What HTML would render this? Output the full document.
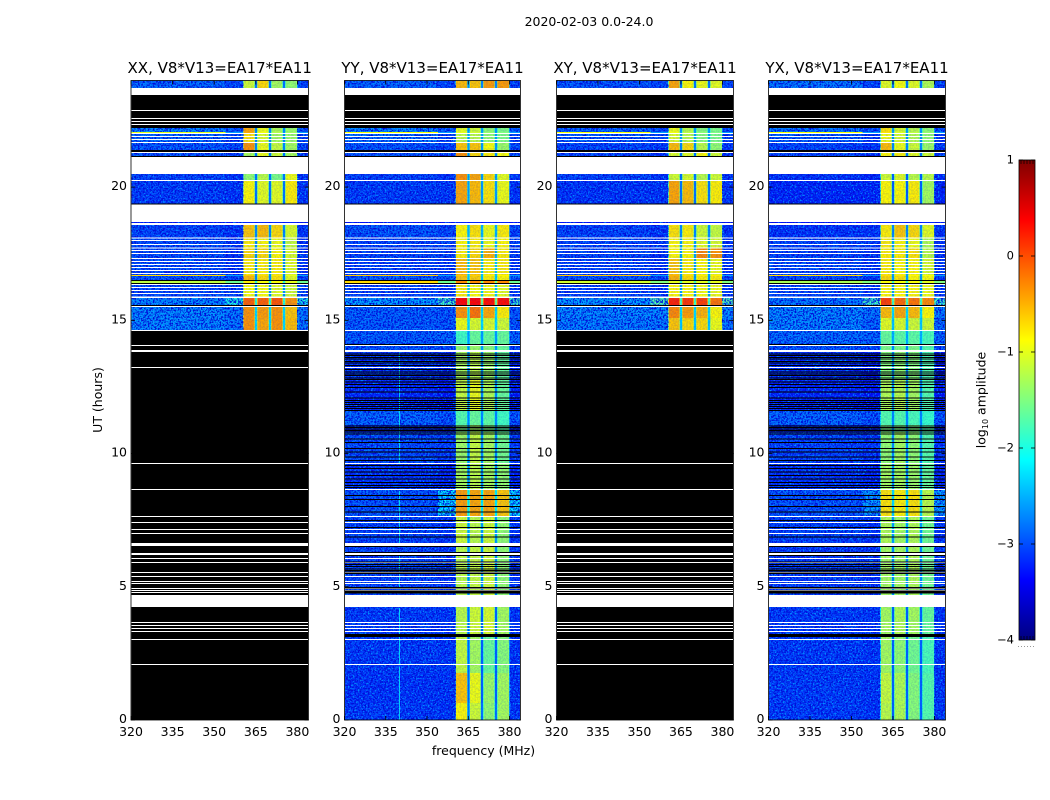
<!DOCTYPE html>
<html lang="en">
<head>
<meta charset="utf-8">
<title>2020-02-03 0.0-24.0</title>
<style>
html,body{margin:0;padding:0;background:#fff;}
svg{display:block;font-family:"DejaVu Sans","Liberation Sans",sans-serif;fill:#000;}
</style>
</head>
<body>
<svg id="chart" width="1050" height="800" viewBox="0 0 1050 800" xmlns="http://www.w3.org/2000/svg">
  <defs>
    <filter id="speckle" x="0" y="0" width="100%" height="100%" color-interpolation-filters="sRGB">
      <feTurbulence type="fractalNoise" baseFrequency="0.6" numOctaves="2" seed="7" result="n"/>
      <feColorMatrix in="n" type="matrix" values="0 0 0 0 0  0 0 0 0 0.55  0 0 0 0 1  6 0 0 0 -3.3" result="light"/>
      <feColorMatrix in="n" type="matrix" values="0 0 0 0 0  0 0 0 0 0.05  0 0 0 0 0.85  0 5 0 0 -2.1" result="dark"/>
      <feMerge><feMergeNode in="dark"/><feMergeNode in="light"/></feMerge>
    </filter>
  </defs>
  <rect width="1050" height="800" fill="#fff"/>
  <text x="589" y="26" font-size="12.5" text-anchor="middle">2020-02-03 0.0-24.0</text>
  <g id="panels"></g>
  <text x="0" y="0" font-size="12.5" text-anchor="middle" transform="translate(102 400) rotate(-90)">UT (hours)</text>
  <text x="483.5" y="755" font-size="12.5" text-anchor="middle">frequency (MHz)</text>
  <g id="colorbar"></g>
  <text x="0" y="0" font-size="12.5" text-anchor="middle" transform="translate(985.5 400) rotate(-90)">log<tspan font-size="8" dy="2.5">10</tspan><tspan dy="-2.5"> amplitude</tspan></text>
</svg>
<script>
// ---- categories and tick labels ----
const polarizations = ['XX', 'YY', 'XY', 'YX'];
const baselineName = 'V8*V13=EA17*EA11';
const freqTicks = [320, 335, 350, 365, 380];
const timeTicks = [0, 5, 10, 15, 20];
const amplitudeTicks = [1, 0, -1, -2, -3, -4];

// ---- frequency structure (MHz): start/end of the four sub-bands ----
const subBands = [[360.4, 364.7], [365.4, 369.7], [370.4, 374.8], [375.5, 380]];
const shoulderStart = 354;

// ---- time blocks (UT hours, start and end) shared by all panels ----
const timeSpans = [
  [24,23.72],[23.46,22.22],[22.22,22.07],[22.07,22.03],[22.03,21.65],[21.65,21.39],[21.39,21.28],
  [21.28,21.17],[21.17,21.13],[20.49,20.23],[20.23,19.39],[19.39,19.34],[18.69,18.58],[18.58,18.11],
  [18.11,17.73],[17.73,17.34],[17.34,16.70],[16.70,16.66],[16.66,16.51],[16.51,16.47],[16.47,16.40],
  [16.40,16.36],[16.36,15.84],[15.84,15.58],[15.58,15.50],[15.50,15.09],[15.09,14.64],[14.64,14.11],
  [14.11,14.04],[14.04,13.81],[13.81,12.76],[12.76,11.63],[11.63,11.07],[11.07,10.81],[10.81,9.63],
  [9.63,8.65],[8.65,7.64],[7.64,6.6],[6.6,4.69],[4.69,3.23],[3.23,3.11],[3.11,1.76],[1.76,0.64],[0.64,0]
];

// ---- log10 amplitude per block: background, shoulder, gap, band1..band4; null = below scale (black) ----
const xxValues = [
  [-2.8,-3,-2.8,-1.1,-.7,-1.3,-1.4],null,[-2.6,-2.9,-2.7,-.45,-.95,-1.25,-1.35],[-1,-2.6,-2.7,-.45,-.95,-1.25,-1.35],
  [-2.8,-3,-2.7,-.75,-1.05,-1.3,-1.35],[-2.9,-3,-2.7,-.35,-.95,-1.15,-1.3],null,[-2.9,-3,-2.8,-1.3,-.95,-1.1,-1.3],null,
  [-3,-3.1,-2.8,-1.4,-1.2,-1.5,-.95],[-3.05,-3.1,-2.8,-.85,-1,-1,-.8],null,[-3.3,-3.3,-3.3,-3.2,-3.2,-3.2,-3.2],
  [-3,-3.1,-2.7,-.6,-.55,-.7,-1.05],[-2.95,-3.1,-2.7,-.8,-.85,-.95,-1.15],[-2.95,-3.1,-2.7,-.7,-.7,-.85,-1.05],
  [-2.95,-3.1,-2.7,-.8,-.8,-.8,-1],[-.7,-2.6,-2.7,-.6,-.7,-.75,-1],[-2.9,-3,-2.7,-.55,-.7,-.75,-1],null,
  [-1.2,-1.6,-1.9,-.8,-.9,-.9,-1],null,[-2.95,-3,-2.7,-.9,-.9,-1,-1.1],[-2.6,-2,-1.9,-.1,-.1,-.05,-.35],null,
  [-2.6,-2.7,-2.3,-.35,-.4,-.35,-.6],[-2.6,-2.7,-2.3,-.35,-.45,-.35,-.55]
];
const yyValues = [
  [-2.8,-3,-2.7,-.55,-.6,-.4,-.4],null,[-2.6,-2.9,-2.6,-1,-1.1,-1.4,-1.5],[-.9,-2.6,-2.6,-1,-1.1,-1.4,-1.5],
  [-2.75,-3,-2.6,-1.2,-1.2,-1.4,-1.5],[-2.9,-3,-2.6,-.6,-.6,-.9,-1.35],null,[-2.9,-3,-2.7,-.35,-.7,-.8,-.9],null,
  [-3,-3.1,-2.6,-.35,-.45,-.7,-1],[-3.05,-3.1,-2.6,-.45,-.55,-.75,-.95],null,[-3.3,-3.3,-3.3,-3.2,-3.2,-3.2,-3.2],
  [-2.9,-3,-2.5,-.85,-.75,-.95,-.8],[-3,-3,-2.5,-.85,-.8,-.95,-.85],[-3,-3,-2.5,-.8,-.7,-.5,-.8],
  [-3,-3.1,-2.4,-.55,-.6,-.8,-.8],[-.6,-2.6,-2.4,-.6,-.65,-.8,-.85],[-2.85,-2.9,-2.4,-.6,-.65,-.8,-.85],null,
  [-.7,-1.6,-1.6,-.3,-.3,-.3,-.3],null,[-3,-3.1,-2.4,-.8,-.9,-.9,-1],[-2.5,-1.8,-1.6,.35,.35,.3,.3],null,
  [-2.85,-2.9,-2.3,-.35,-.2,-.45,-.8],[-2.85,-2.9,-2.3,-.95,-1.05,-1.05,-1.1],[-2.85,-2.8,-2.6,-1.8,-1.6,-1.6,-1.6],null,
  [-2.9,-3,-2.6,-1.4,-1.35,-1.45,-1.6],[-3.1,-3.2,-2.7,-1.3,-1.2,-1.35,-1.6],[-3.2,-3.3,-2.7,-1.15,-.95,-1.25,-1.6],
  [-2.8,-2.9,-2.7,-1.7,-1.6,-1.65,-1.8],[-3.2,-3.3,-2.7,-1.5,-1.3,-1.5,-1.7],[-2.95,-3.05,-2.7,-1.35,-1.15,-1.3,-1.55],
  [-3.1,-3.2,-2.7,-1.3,-1.2,-1.3,-1.4],[-2.9,-2.2,-2.2,-.4,-.45,-.45,-.6],[-3,-3.1,-2.6,-1.1,-1.2,-1.1,-1.4],
  [-3,-3.1,-2.7,-1.2,-1.15,-1.1,-1.4],[-3.05,-3.1,-2.9,-1.2,-1.1,-1.05,-1.3],null,[-3.05,-3.1,-2.9,-1.15,-1.3,-1.6,-1.45],
  [-3.1,-3.1,-2.9,-.6,-.95,-1.35,-1.3],[-3.05,-3.1,-2.8,-.85,-1.1,-1.4,-1.3]
];
const xyValues = [
  [-2.9,-3,-2.8,-.45,-.85,-.95,-1],null,[-2.8,-3,-2.6,-.95,-1.2,-1.45,-1.5],[-.9,-2.6,-2.6,-.95,-1.2,-1.45,-1.5],
  [-2.9,-3,-2.6,-1.05,-1.2,-1.45,-1.5],[-3,-3.1,-2.7,-.55,-.7,-1.2,-1.4],null,[-3,-3.1,-2.8,-1.05,-1,-.85,-1.1],null,
  [-3,-3.1,-2.8,-1.1,-1.05,-1.2,-1.1],[-3.1,-3.1,-2.8,-.45,-.55,-.75,-.8],null,[-3.3,-3.3,-3.3,-3.2,-3.2,-3.2,-3.2],
  [-3,-3.1,-2.7,-.75,-.8,-1.1,-1.15],[-3,-3.1,-2.6,-.85,-.85,-1,-1.05],[-3,-3.1,-2.6,-.85,-.85,-.3,-.35],
  [-3,-3.1,-2.6,-.6,-.8,-.85,-.95],[-.6,-2.6,-2.6,-.5,-.7,-.8,-.8],[-2.9,-3,-2.6,-.5,-.7,-.8,-.8],null,
  [-1.1,-1.5,-1.8,-1,-1,-1,-1],null,[-3,-3.1,-2.6,-.85,-.85,-.9,-.95],[-2.5,-1.7,-1.8,.2,.1,.05,-.2],null,
  [-2.6,-2.6,-2.3,-.3,-.4,-.5,-.85],[-2.65,-2.7,-2.4,-.6,-.7,-.7,-.95]
];
const yxValues = [
  [-2.7,-3,-2.8,-1,-.9,-1,-1.25],null,[-2.7,-3,-2.6,-.75,-1.05,-1.2,-1.4],[-.9,-2.6,-2.6,-.75,-1.05,-1.2,-1.4],
  [-2.85,-3.1,-2.7,-.95,-1.05,-1.25,-1.4],[-3,-3.1,-2.7,-.55,-.95,-1.1,-1.35],null,[-3,-3.1,-2.8,-.85,-.8,-1,-1.1],null,
  [-3.1,-3.2,-2.9,-1.1,-1,-1.2,-1.2],[-3.2,-3.2,-2.9,-.85,-.85,-.8,-1.3],null,[-3.3,-3.3,-3.3,-3.2,-3.2,-3.2,-3.2],
  [-3.1,-3.1,-2.7,-.8,-.6,-.7,-1],[-3,-3.1,-2.6,-.8,-.85,-.95,-1.25],[-3,-3.1,-2.6,-.8,-.8,-.75,-1.2],
  [-2.95,-3.1,-2.6,-.8,-.85,-.85,-1.05],[-.7,-2.6,-2.6,-.7,-.75,-.85,-.9],[-2.95,-3.1,-2.6,-.7,-.75,-.85,-.9],null,
  [-1.3,-1.5,-1.8,-.9,-.9,-.9,-1],null,[-2.95,-3.1,-2.6,-.85,-.85,-.85,-.95],[-2.7,-1.8,-1.8,.05,-.15,-.2,-.3],null,
  [-2.6,-2.7,-2.3,-.55,-.45,-.55,-.85],[-2.6,-2.8,-2.4,-1,-1.05,-1.1,-1.1],[-2.75,-2.8,-2.5,-1.6,-1.65,-1.65,-1.75],null,
  [-2.9,-3,-2.7,-1.5,-1.5,-1.5,-1.7],[-3.15,-3.3,-2.7,-1.45,-1.4,-1.45,-1.7],[-3.2,-3.3,-2.7,-1.25,-1.2,-1.3,-1.7],
  [-2.8,-2.9,-2.7,-1.7,-1.7,-1.75,-1.85],[-3.2,-3.3,-2.7,-1.5,-1.5,-1.5,-1.7],[-3,-3.1,-2.7,-1.4,-1.3,-1.4,-1.7],
  [-3.1,-3.2,-2.7,-1.3,-1.3,-1.35,-1.6],[-2.9,-2.5,-2.3,-.75,-.8,-.75,-1.2],[-3,-3.1,-2.6,-1.25,-1.3,-1.25,-1.55],
  [-3.05,-3.1,-2.7,-1.3,-1.3,-1.25,-1.55],[-3.05,-3.1,-2.9,-1.3,-1.25,-1.3,-1.6],null,[-3.05,-3.1,-2.9,-1.3,-1.4,-1.55,-1.75],
  [-3.05,-3.1,-2.9,-1.15,-1.25,-1.45,-1.7],[-3.05,-3.1,-2.9,-1.2,-1.25,-1.45,-1.7]
];
const panelValues = [xxValues, yyValues, xyValues, yxValues];

// ---- flagged (blank) time intervals common to all panels, UT hours ----
const flaggedSpans = [
  [23.72,23.46],[22.89,22.86],[22.59,22.56],[22.48,22.44],[22.37,22.33],[22.03,21.99],[21.92,21.88],[21.80,21.77],
  [21.69,21.65],[21.32,21.28],[21.13,20.49],[20.27,20.23],[19.34,18.69],[18.65,18.58],[18.11,18.07],[18.01,17.98],
  [17.86,17.83],[17.73,17.70],[17.64,17.60],[17.53,17.49],[17.34,17.30],[17.23,17.19],[17.11,17.08],[17.00,16.96],
  [16.89,16.85],[16.78,16.74],[16.36,16.33],[16.25,16.21],[16.14,16.10],[16.03,15.99],[15.89,15.84],[15.54,15.50],
  [14.64,14.60],[14.07,14.04],[13.89,13.81],[13.25,13.21],[9.65,9.61],[8.67,8.63],[7.66,7.62],[7.43,7.39],[7.17,7.13],
  [7.02,6.98],[6.64,6.53],[6.27,6.19],[6.08,6.04],[5.93,5.89],[5.55,5.52],[5.40,5.37],[5.22,5.18],[5.14,5.10],
  [4.95,4.92],[4.88,4.84],[4.80,4.77],[4.69,4.24],[3.68,3.64],[3.57,3.53],[3.45,3.42],[3.34,3.30],[3.04,3.00],[2.10,2.06]
];

// ---- dropped integrations in the YY / YX panels (UT hours) ----
const droppedTimes = [
  13.76,13.70,13.63,13.57,13.48,13.41,13.33,13.18,13.07,13.01,12.95,12.86,12.79,12.70,12.61,12.49,12.32,12.11,12.01,
  11.93,11.86,11.78,11.71,11.63,11.05,11.00,10.94,10.88,10.83,10.76,10.57,10.44,10.20,10.07,9.88,9.76,9.57,9.45,9.32,
  9.19,9.07,8.94,8.82,8.74,8.44,8.29,8.03,7.82,7.51,7.25,6.88,6.53,6.31,6.19,5.94,5.85,5.78,5.69,5.63,5.57,5.51,
  5.00,4.97,4.86,4.82,4.78
];
const droppedPanels = ['YY', 'YX'];

// ---- narrow interference line: frequency (MHz), time spans (UT hours), log amplitude ----
const rfiFrequency = 339.8;
const rfiSpans = [[13.8,9.6],[8.6,6.6],[6.2,5.0],[4.2,2.1],[2.0,0]];
const rfiLevel = -2.1;

// ---- layout and scales ----
const NS = 'http://www.w3.org/2000/svg';
const panelFrames = [[131, 308.5], [344.5, 520.5], [556.5, 733.5], [768.5, 945.5]];
const plotTop = 80.5, plotBottom = 720;
const freqMin = 320, freqMax = 384, timeMax = 24;
const barLeft = 1019, barRight = 1035, barTop = 160, barBottom = 640, ampMin = -4, ampMax = 1;
const fringeWidth = 0.2, hotLineLevel = -2;

function xScale(p, f) { const fr = panelFrames[p]; return fr[0] + (f - freqMin) / (freqMax - freqMin) * (fr[1] - fr[0]); }
function yScale(t) { return plotBottom - t / timeMax * (plotBottom - plotTop); }
function ampScale(v) { return barBottom - (v - ampMin) / (ampMax - ampMin) * (barBottom - barTop); }
function clamp01(v) { return Math.max(0, Math.min(1, v)); }
function jet(v) {
  const x = clamp01((v - ampMin) / (ampMax - ampMin));
  const r = clamp01(1.5 - Math.abs(4 * x - 3));
  const g = clamp01(1.5 - Math.abs(4 * x - 2));
  const b = clamp01(1.5 - Math.abs(4 * x - 1));
  return 'rgb(' + Math.round(r * 255) + ',' + Math.round(g * 255) + ',' + Math.round(b * 255) + ')';
}
function svgEl(tag, parent) { const el = document.createElementNS(NS, tag); parent.appendChild(el); return el; }
function box(parent, x0, x1, y0, y1, fill) {
  const r = svgEl('rect', parent);
  r.setAttribute('x', x0); r.setAttribute('y', y0);
  r.setAttribute('width', x1 - x0); r.setAttribute('height', y1 - y0);
  r.setAttribute('fill', fill);
  r.setAttribute('shape-rendering', 'crispEdges');
  return r;
}
function stroke(parent, x1, y1, x2, y2, w, col) {
  const l = svgEl('line', parent);
  l.setAttribute('x1', x1); l.setAttribute('y1', y1); l.setAttribute('x2', x2); l.setAttribute('y2', y2);
  l.setAttribute('stroke', col || '#000'); l.setAttribute('stroke-width', w);
  return l;
}
function label(parent, x, y, str, size, anchor) {
  const t = svgEl('text', parent);
  t.setAttribute('x', x); t.setAttribute('y', y);
  t.setAttribute('font-size', size); t.setAttribute('text-anchor', anchor);
  t.textContent = str;
  return t;
}

const panelsRoot = document.getElementById('panels');
polarizations.forEach(function (pol, p) {
  const g = svgEl('g', panelsRoot);
  
  
  const values = panelValues[p];
  const left = xScale(p, freqMin) + 0.5, right = xScale(p, freqMax) - 0.5;
  const baseLayer = svgEl('g', g);
  const noiseLayer = svgEl('g', g);
  const hotLayer = svgEl('g', g);

  // data cells
  timeSpans.forEach(function (span, i) {
    const row = values[i];
    if (!row) return;
    const y0 = yScale(span[0]), y1 = yScale(span[1]);
    const bg = row[0], sh = row[1], gap = row[2];
    const target = bg > hotLineLevel ? hotLayer : baseLayer;
    const cols = [[freqMin, shoulderStart, bg], [shoulderStart, subBands[0][0], sh], [subBands[3][1], freqMax, sh]];
    subBands.forEach(function (band, b) {
      const v = row[3 + b];
      const edgeValue = (v + gap) / 2;
      cols.push([band[0], band[0] + fringeWidth, edgeValue]);
      cols.push([band[0] + fringeWidth, band[1] - fringeWidth, v]);
      cols.push([band[1] - fringeWidth, band[1], edgeValue]);
      if (b < 3) cols.push([band[1], subBands[b + 1][0], gap]);
    });
    cols.forEach(function (c) {
      const cell = box(target, Math.max(left, xScale(p, c[0])), Math.min(right, xScale(p, c[1])), y0, y1, jet(c[2]));
      
      
    });
  });

  // speckle texture over the background channels
  [[freqMin, subBands[0][0], 1], [subBands[3][1], freqMax, 1], [subBands[0][0], subBands[3][1], 0.14]].forEach(function (range) {
    const s = box(noiseLayer, Math.max(left, xScale(p, range[0])), Math.min(right, xScale(p, range[1])), yScale(timeMax), yScale(0), '#000');
    s.setAttribute('filter', 'url(#speckle)');
    s.setAttribute('opacity', range[2]);
    
    
  });

  // interference line
  if (pol === 'YY') {
    rfiSpans.forEach(function (span) {
      const rfi = box(g, xScale(p, rfiFrequency), xScale(p, rfiFrequency) + 1, yScale(span[0]), yScale(span[1]), jet(rfiLevel));
      rfi.setAttribute('opacity', 0.75);
      
      
    });
  }

  // below-scale rows and blank areas cover the texture
  timeSpans.forEach(function (span, i) {
    if (values[i]) return;
    const blk = box(g, left, right, yScale(span[0]), yScale(span[1]), '#000');
    
    
  });
  [[timeMax, timeSpans[0][0]]].concat(flaggedSpans).forEach(function (span) {
    const w = box(g, left, right, yScale(span[0]), yScale(span[1]), '#fff');
    
    
  });
  if (droppedPanels.indexOf(pol) >= 0) {
    droppedTimes.forEach(function (t) {
      const d = box(g, left, right, yScale(t), yScale(t) + 1, '#000');
      
      
    });
  }

  // frame
  const fr = panelFrames[p];
  const frame = svgEl('rect', g);
  frame.setAttribute('x', fr[0]); frame.setAttribute('y', plotTop);
  frame.setAttribute('width', fr[1] - fr[0]); frame.setAttribute('height', plotBottom - plotTop);
  frame.setAttribute('fill', 'none'); frame.setAttribute('stroke', '#000'); frame.setAttribute('stroke-width', 0.8);
  
  

  // x ticks
  freqTicks.forEach(function (f) {
    const x = xScale(p, f);
    const tb = stroke(g, x, plotBottom, x, plotBottom - 4, 0.8);
    
    
    const tt = stroke(g, x, plotTop, x, plotTop + 4, 0.8);
    
    
    const tl = label(g, x, plotBottom + 16, String(f), 12.5, 'middle');
    
    
  });
  // y ticks
  timeTicks.forEach(function (t) {
    const y = yScale(t);
    const a = stroke(g, fr[0], y, fr[0] + 4, y, 0.8);
    
    
    const b = stroke(g, fr[1], y, fr[1] - 4, y, 0.8);
    
    
    const tl = label(g, fr[0] - 4, y + 3, String(t), 12.5, 'end');
    
    
  });
  // panel title
  const title = label(g, (fr[0] + fr[1]) / 2, 73, pol + ', ' + baselineName, 15, 'middle');
  
  
});

// ---- colorbar ----
const bar = document.getElementById('colorbar');
const gradient = svgEl('linearGradient', document.querySelector('defs'));
gradient.setAttribute('id', 'jetGradient');
gradient.setAttribute('x1', '0'); gradient.setAttribute('y1', '1'); gradient.setAttribute('x2', '0'); gradient.setAttribute('y2', '0');
for (let i = 0; i <= 64; i++) {
  const stop = svgEl('stop', gradient);
  stop.setAttribute('offset', (i / 64 * 100) + '%');
  stop.setAttribute('stop-color', jet(ampMin + (ampMax - ampMin) * i / 64));
}
const barFill = svgEl('rect', bar);
barFill.setAttribute('x', barLeft); barFill.setAttribute('y', barTop);
barFill.setAttribute('width', barRight - barLeft); barFill.setAttribute('height', barBottom - barTop);
barFill.setAttribute('fill', 'url(#jetGradient)');
barFill.setAttribute('stroke', '#000'); barFill.setAttribute('stroke-width', 0.8);


amplitudeTicks.forEach(function (v) {
  const y = ampScale(v);
  const a = stroke(bar, barLeft, y, barLeft + 4, y, 0.8);
  
  
  const b = stroke(bar, barRight, y, barRight - 4, y, 0.8);
  
  
  const tl = label(bar, barLeft - 5, y + 3.5, (v < 0 ? '\u2212' + (-v) : String(v)), 11.5, 'end');
  
  
});
for (let x = barLeft + 2; x < barRight - 1; x += 3) {
  const up = stroke(bar, x, barTop, x, barTop + 4, 0.7);
  
  
  const dn = stroke(bar, x, barBottom, x, barBottom - 4, 0.7);
  
  
}
for (let x = barLeft - 1; x <= barRight; x += 3) {
  const dot = box(bar, x, x + 1, barBottom + 6, barBottom + 7, '#999');
  
  
}
</script>
</body>
</html>
